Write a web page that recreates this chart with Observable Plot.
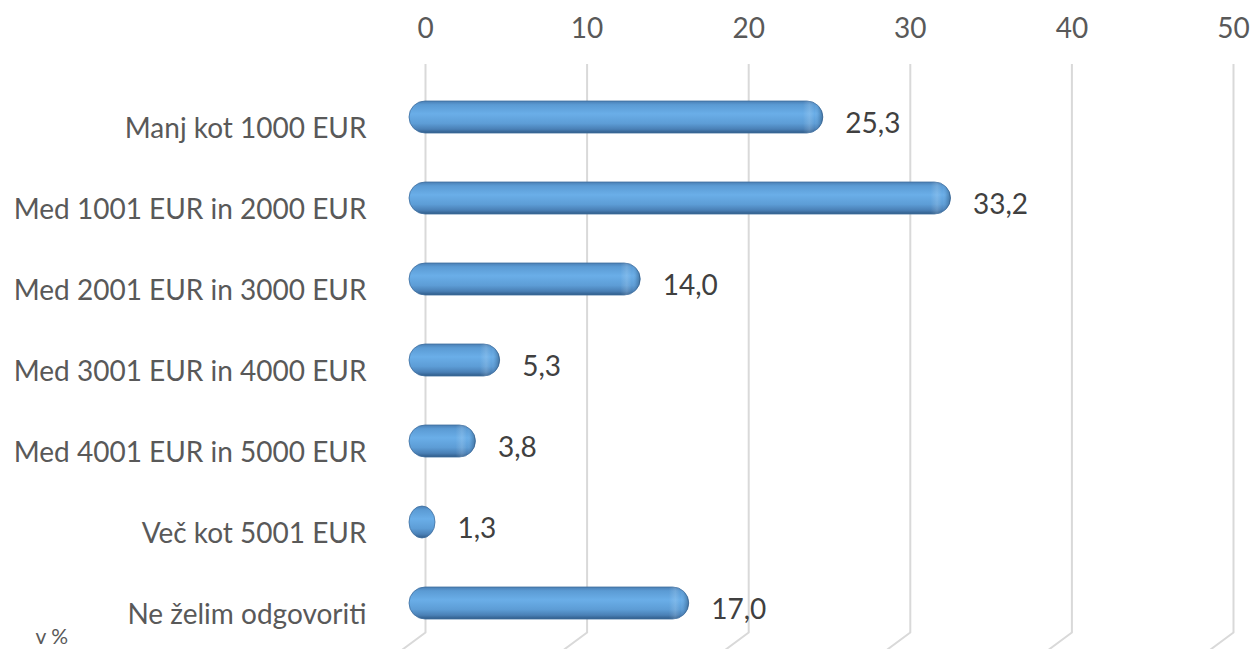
<!DOCTYPE html>
<html>
<head>
<meta charset="utf-8">
<script src="https://cdn.jsdelivr.net/npm/d3@7"></script>
<script src="https://cdn.jsdelivr.net/npm/@observablehq/plot@0.6"></script>
<style>
  html, body { margin: 0; padding: 0; background: #fff; }
  #chart { width: 1253px; height: 649px; overflow: hidden; }
</style>
</head>
<body>
<div id="chart"></div>
<script>
const categories = [
  "Manj kot 1000 EUR",
  "Med 1001 EUR in 2000 EUR",
  "Med 2001 EUR in 3000 EUR",
  "Med 3001 EUR in 4000 EUR",
  "Med 4001 EUR in 5000 EUR",
  "Več kot 5001 EUR",
  "Ne želim odgovoriti"
];
const values = [25.3, 33.2, 14.0, 5.3, 3.8, 1.3, 17.0];
const xTicks = [0, 10, 20, 30, 40, 50];
const unitLabel = "v %";

const data = categories.map((category, i) => ({category, value: values[i]}));
const fmt = v => d3.format(".1f")(v).replace(".", ",");

const NS = "http://www.w3.org/2000/svg";
function makeGrad(defs, id, horizontal, stops) {
  const g = document.createElementNS(NS, "linearGradient");
  g.setAttribute("id", id);
  g.setAttribute("x1", "0"); g.setAttribute("y1", "0");
  g.setAttribute("x2", horizontal ? "1" : "0"); g.setAttribute("y2", horizontal ? "0" : "1");
  stops.forEach(([o, c, a]) => {
    const s = document.createElementNS(NS, "stop");
    s.setAttribute("offset", o); s.setAttribute("stop-color", c);
    s.setAttribute("stop-opacity", a == null ? 1 : a);
    g.appendChild(s);
  });
  defs.appendChild(g);
}
function defsMark() {
  const defs = document.createElementNS(NS, "defs");
  makeGrad(defs, "barGrad", false, [["0%", "#4a7fb4"], ["12%", "#5b9bd4"], ["40%", "#6aaee8"], ["70%", "#5d9dd6"], ["88%", "#4a80b6"], ["100%", "#2f5b88"]]);
  makeGrad(defs, "capGrad", true, [["0%", "#ffffff", 0], ["38%", "#ffffff", 0], ["58%", "#eaf5ff", 0.16], ["74%", "#ffffff", 0], ["86%", "#1d3d5e", 0.1], ["100%", "#1d3d5e", 0.45]]);
  return defs;
}

const lineShape = {
  draw(context, l) { context.moveTo(0, 0); context.lineTo(0, -l); }
};

const chart = Plot.plot({
  width: 1253,
  height: 649,
  marginLeft: 425,
  marginRight: 20,
  marginTop: 64,
  marginBottom: 17,
  style: {fontFamily: "Lato, 'Open Sans', sans-serif", fontSize: "28px", color: "#595959", background: "#fff"},
  x: {domain: [0, 50], axis: null},
  y: {domain: categories, paddingInner: 0.6, paddingOuter: 0.299, align: 0.7375, axis: null},
  marks: [
    defsMark,
    Plot.ruleX(xTicks, {stroke: "#d9d9d9", strokeWidth: 2}),
    Plot.vector(xTicks, {x: d => d, frameAnchor: "bottom", length: 28.6, rotate: 233.5, anchor: "start", shape: lineShape, stroke: "#d9d9d9", strokeWidth: 2}),
    Plot.axisX({anchor: "top", ticks: xTicks, tickSize: 0, tickPadding: 27, fontSize: 28, fill: "#595959", label: null}),
    Plot.axisY({anchor: "left", tickSize: 0, tickPadding: 59, dy: 12, fontSize: 28, fill: "#595959", label: null}),
    Plot.barX(data, {x: "value", y: "category", fill: "url(#barGrad)", rx: 16, insetLeft: -16, insetRight: 11, stroke: "#3f6f9f", strokeWidth: 0.8}),
    Plot.barX(data.filter(d => d.value > 2), {x1: "value", x2: "value", y: "category", fill: "url(#capGrad)", rx: 16, insetLeft: -43, insetRight: 11}),
    Plot.text(data, {x: "value", y: "category", text: d => fmt(d.value), textAnchor: "start", dx: 11, dy: 7, fontSize: 28, fill: "#404040"}),
    Plot.text([unitLabel], {frameAnchor: "bottom-left", text: d => d, textAnchor: "start", dx: -390, dy: 11, fontSize: 21, fill: "#595959"})
  ]
});
document.getElementById("chart").appendChild(chart);
</script>
</body>
</html>
